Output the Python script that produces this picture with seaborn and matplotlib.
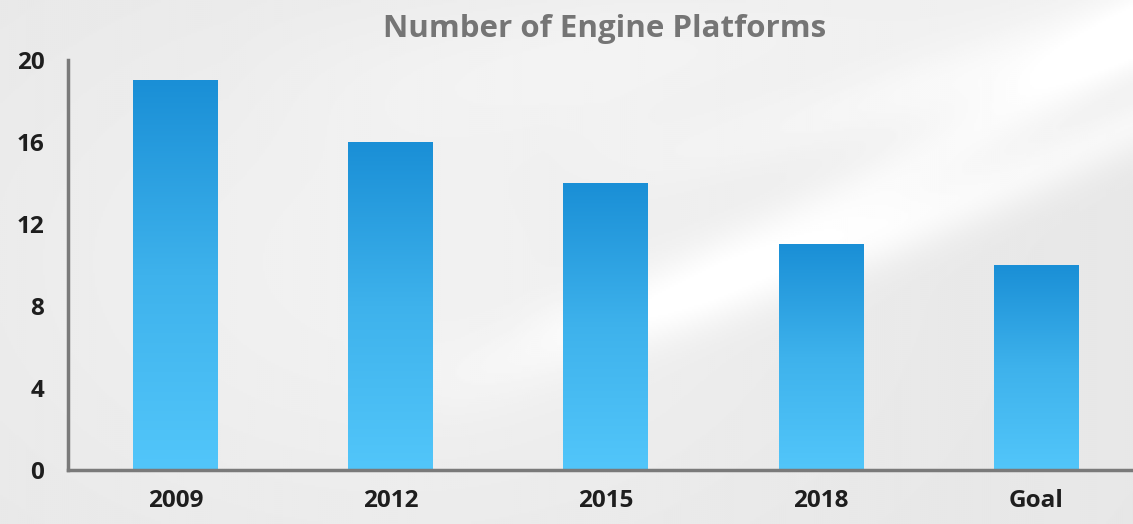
import numpy as np
import pandas as pd
import matplotlib
matplotlib.use("Agg")
import matplotlib.pyplot as plt
import seaborn as sns
from matplotlib.colors import LinearSegmentedColormap

# Engine platform counts by year
categories = ["2009", "2012", "2015", "2018", "Goal"]
platforms = [19, 16, 14, 11, 10]
y_ticks = [0, 4, 8, 12, 16, 20]
title = "Number of Engine Platforms"

df = pd.DataFrame({"year": categories, "platforms": platforms})

sns.set_theme(style="white")
plt.rcParams["font.family"] = ["Open Sans", "DejaVu Sans"]

fig = plt.figure(figsize=(11.33, 5.24), dpi=100)

# soft grey backdrop with light white streaks
bg = fig.add_axes([0, 0, 1, 1], zorder=-10)
W, H = 566, 262
xx, yy = np.meshgrid(np.linspace(0, 1, W), np.linspace(0, 1, H))
img = 0.905 + 0.04 * np.exp(-((xx - 0.35) ** 2) / 0.15 - ((yy - 0.5) ** 2) / 0.3)
for x0, y0, k, s, a in [(0.40, 0.28, 1.3, 0.006, 0.06),
                        (0.55, 0.38, 1.1, 0.004, 0.06),
                        (0.58, 0.70, 0.8, 0.006, 0.05),
                        (0.30, 0.85, 0.3, 0.020, 0.03)]:
    curve = y0 + k * np.clip(xx - x0, 0, None) ** 1.2 * 0.9
    mask = np.exp(-((yy - curve) ** 2) / s) * (xx > x0 - 0.1) * np.clip((xx - x0 + 0.1) * 3, 0, 1)
    img = img + a * mask
img = np.clip(img, 0, 1)
bg.imshow(img, cmap="gray", vmin=0, vmax=1, extent=[0, 1, 0, 1],
          origin="lower", aspect="auto")
bg.set_axis_off()

ax = fig.add_axes([0.06, 0.103, 0.94, 0.782])
ax.patch.set_alpha(0)
sns.barplot(data=df, x="year", y="platforms", width=0.395, ax=ax,
            color="#2aa0e0", saturation=1)

# vertical blue gradient on each bar
cmap = LinearSegmentedColormap.from_list("bar", ["#52c6fa", "#3eb2ec", "#1a8fd6"])
grad = np.linspace(0, 1, 256).reshape(-1, 1)
for p in ax.patches:
    x0, y0 = p.get_x(), p.get_y()
    w, h = p.get_width(), p.get_height()
    p.set_facecolor("none")
    p.set_edgecolor("none")
    ax.imshow(grad, cmap=cmap, extent=[x0, x0 + w, y0, y0 + h],
              origin="lower", aspect="auto", zorder=2)

ax.set_xlim(-0.5, 4.45)
ax.set_ylim(0, 20)
ax.set_yticks(y_ticks)
ax.set_xlabel("")
ax.set_ylabel("")

for side in ["top", "right"]:
    ax.spines[side].set_visible(False)
for side in ["left", "bottom"]:
    ax.spines[side].set_color("#7a7a7a")
    ax.spines[side].set_linewidth(2.5)
    ax.spines[side].set_zorder(3)

ax.tick_params(axis="both", length=0, labelsize=17.5, labelcolor="#1e1e1e")
ax.tick_params(axis="y", pad=17)
ax.tick_params(axis="x", pad=14)
for lbl in ax.get_xticklabels() + ax.get_yticklabels():
    lbl.set_fontweight("bold")

fig.text(0.534, 0.945, title, ha="center", va="center", fontsize=22.5,
         fontweight="bold", color="#757575")

fig.savefig("out.png", dpi=100)
